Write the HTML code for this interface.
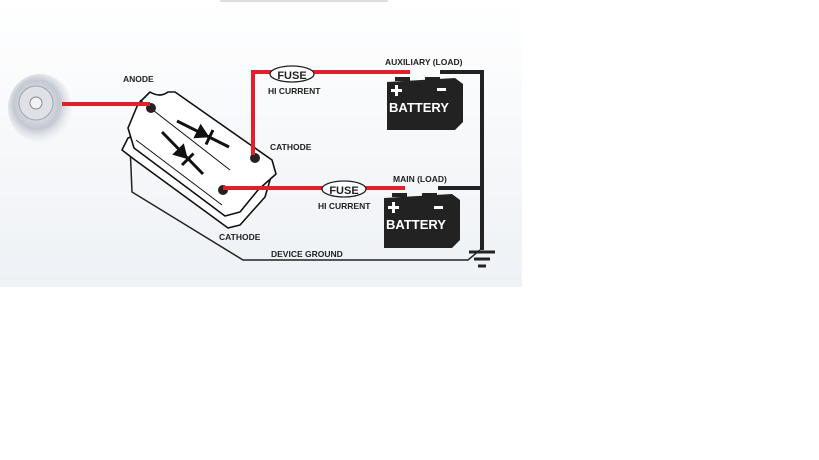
<!DOCTYPE html>
<html><head><style>
html,body{margin:0;padding:0;background:#fff;width:819px;height:460px;overflow:hidden}
text{font-family:"Liberation Sans",sans-serif;font-weight:bold;fill:#222}
</style></head><body>
<svg width="819" height="460" viewBox="0 0 819 460" xmlns="http://www.w3.org/2000/svg">
<defs>
<linearGradient id="bg" x1="0" y1="0" x2="0" y2="1">
<stop offset="0" stop-color="#ffffff"/><stop offset="1" stop-color="#eef1f5"/>
</linearGradient>
<radialGradient id="alt" cx="0.45" cy="0.45" r="0.6">
<stop offset="0" stop-color="#f4f5f8"/><stop offset="0.6" stop-color="#c4c8d0"/><stop offset="1" stop-color="#eef0f4" stop-opacity="0"/>
</radialGradient>
</defs>
<rect x="0" y="0" width="522" height="287" fill="url(#bg)"/>
<rect x="220" y="0" width="168" height="2" fill="#ddd"/>
<!-- alternator -->
<ellipse cx="40" cy="108" rx="32" ry="34" fill="url(#alt)"/>
<circle cx="36" cy="103" r="17" fill="#dfe1e6" stroke="#a0a5ae"/>
<circle cx="36" cy="103" r="6" fill="#f2f3f5" stroke="#888"/>
<!-- ground wire from device -->
<polyline points="130,145 132,192 243,260 468,260 480,250" fill="none" stroke="#222" stroke-width="1.5"/>
<!-- isolator box -->
<g fill="#fff" stroke="#111" stroke-width="1.6" stroke-linejoin="round">
<path d="M128,138 L122,150 L135,160 L228,228 L240,225 L265,197 L270,180 L180,118 Z"/>
<path d="M150,92 Q160,98 168,92 L175,92 L272,160 L276,174 L258,190 L240,212 L225,216 L134,148 L128,128 L138,104 Z"/>
<path d="M140,100 L230,170 M136,140 L222,205" fill="none" stroke-width="1"/>
</g>
<circle cx="151" cy="108" r="5" fill="#222"/>
<circle cx="255" cy="158" r="5" fill="#222"/>
<circle cx="223" cy="190" r="5" fill="#222"/>
<!-- diodes -->
<g stroke="#111" stroke-width="3"><line x1="177" y1="121" x2="229" y2="147"/><line x1="162" y1="132" x2="203" y2="174"/>
<line x1="206" y1="144.5" x2="213" y2="130"/><line x1="182" y1="165" x2="193.5" y2="153.5"/></g>
<polygon points="193.4,138.2 200.6,123.8 209.5,137.3" fill="#111"/>
<polygon points="172.2,154.6 183.8,143.4 187.8,159.1" fill="#111"/>
<!-- red wires -->
<g stroke="#e0202a" stroke-width="4" fill="none">
<line x1="62" y1="104" x2="150" y2="104"/>
<polyline points="253,155 253,72 410,72"/>
<line x1="223" y1="188" x2="405" y2="188"/>
</g>
<!-- black wires -->
<g stroke="#222" stroke-width="4" fill="none">
<polyline points="440,72 482,72 482,250"/>
<line x1="438" y1="188" x2="482" y2="188"/>
</g>
<!-- ground symbol -->
<g stroke="#222" stroke-width="3"><line x1="469" y1="252" x2="495" y2="252"/><line x1="474" y1="259" x2="490" y2="259"/><line x1="478" y1="266" x2="486" y2="266"/></g>
<!-- fuses -->
<ellipse cx="292" cy="74" rx="22" ry="8" fill="#fff" stroke="#222" stroke-width="1.3"/>
<text x="292" y="79" font-size="11" text-anchor="middle">FUSE</text>
<ellipse cx="344" cy="189" rx="22" ry="8" fill="#fff" stroke="#222" stroke-width="1.3"/>
<text x="344" y="194" font-size="11" text-anchor="middle">FUSE</text>
<!-- batteries -->
<g>
<polygon points="387,82 455,78 463,84 463,122 455,130 387,130" fill="#222"/>
<rect x="395" y="77" width="15" height="4" fill="#222"/><rect x="425" y="77" width="15" height="4" fill="#222"/>
<rect x="391" y="89" width="11" height="3" fill="#fff"/><rect x="395" y="85" width="3" height="11" fill="#fff"/>
<rect x="437" y="88" width="9" height="3" fill="#fff"/>
<text x="389" y="112" font-size="13" style="fill:#fff" textLength="60" lengthAdjust="spacingAndGlyphs">BATTERY</text>
<polygon points="384,198 452,194 460,200 460,240 452,248 384,248" fill="#222"/>
<rect x="392" y="193" width="15" height="4" fill="#222"/><rect x="422" y="193" width="15" height="4" fill="#222"/>
<rect x="388" y="206" width="11" height="3" fill="#fff"/><rect x="392" y="202" width="3" height="11" fill="#fff"/>
<rect x="434" y="206" width="9" height="3" fill="#fff"/>
<text x="386" y="229" font-size="13" style="fill:#fff" textLength="60" lengthAdjust="spacingAndGlyphs">BATTERY</text>
</g>
<!-- labels -->
<g font-size="8.5">
<text x="123" y="82">ANODE</text>
<text x="268" y="94">HI CURRENT</text>
<text x="270" y="150">CATHODE</text>
<text x="318" y="209">HI CURRENT</text>
<text x="219" y="240">CATHODE</text>
<text x="271" y="257">DEVICE GROUND</text>
<text x="385" y="65">AUXILIARY (LOAD)</text>
<text x="393" y="182">MAIN (LOAD)</text>
</g>
</svg>
</body></html>
